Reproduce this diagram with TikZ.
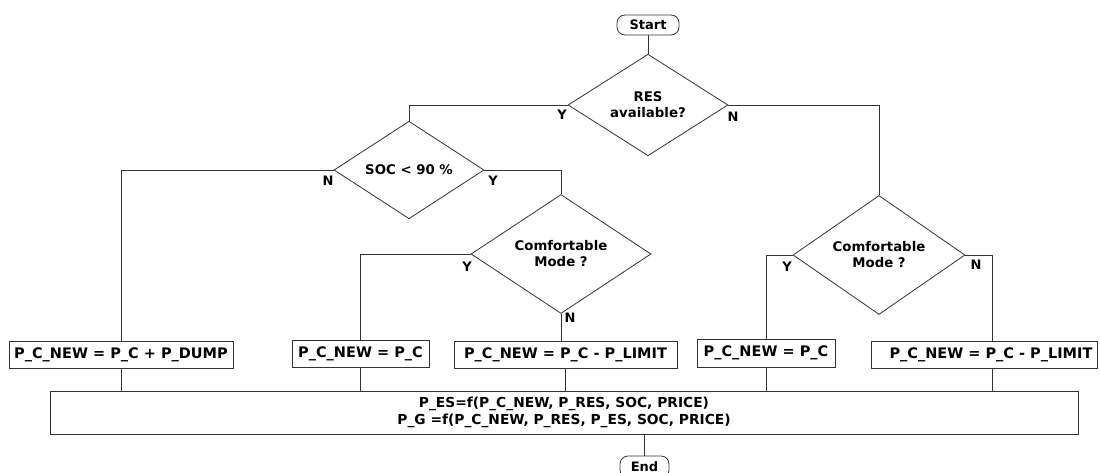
\documentclass[tikz,border=0pt]{standalone}
\usepackage{fontspec}
\setmainfont{DejaVu Sans}
\usetikzlibrary{shapes.geometric}
\definecolor{ln}{HTML}{333333}
\tikzset{
  base/.style={font=\fontsize{13}{15}\selectfont\bfseries, text=black},
  term/.style={base, draw=ln, line width=0.8pt, rounded corners=8pt, inner sep=0pt},
  dec/.style={base, draw=ln, line width=0.8pt, diamond, inner sep=0pt, align=center, font=\fontsize{13.3}{16}\selectfont\bfseries},
  proc/.style={base, draw=ln, line width=0.8pt, rectangle, inner sep=0pt, align=center, font=\fontsize{14.5}{16}\selectfont\bfseries},
  lab/.style={base, inner sep=0pt},
  conn/.style={draw=ln, line width=0.8pt}
}
\begin{document}
\begin{tikzpicture}[x=1pt,y=-1pt]
\useasboundingbox (0,0) rectangle (1100,473);
\node[term, minimum width=62pt, minimum height=20pt] (start) at (648,25) {Start};
\node[dec, minimum width=160pt, minimum height=96pt] (res) at (648,105) {RES\\available?};
\node[dec, minimum width=150pt, minimum height=90pt] (soc) at (409,170) {SOC < 90 \%};
\node[dec, minimum width=180pt, minimum height=110pt] (cmA) at (561,254) {Comfortable\\Mode ?};
\node[dec, minimum width=172pt, minimum height=106pt] (cmB) at (879,255) {Comfortable\\Mode ?};
\node[proc, minimum width=224pt, minimum height=27pt] (bA) at (121,354.5) {P\_C\_NEW = P\_C + P\_DUMP};
\node[proc, minimum width=137pt, minimum height=27pt] (bB) at (360.5,353.5) {P\_C\_NEW = P\_C};
\node[proc, minimum width=223pt, minimum height=27pt] (bC) at (565.5,354.5) {P\_C\_NEW = P\_C - P\_LIMIT};
\node[proc, minimum width=138pt, minimum height=28pt] (bD) at (766,353) {P\_C\_NEW = P\_C};
\node[proc, minimum width=226pt, minimum height=27pt] (bE) at (984,354.5) {\hspace*{14pt}P\_C\_NEW = P\_C - P\_LIMIT};
\node[proc, minimum width=1028pt, minimum height=43pt, font=\fontsize{13.8}{16.5}\selectfont\bfseries] (all) at (564,412.5) {P\_ES=f(P\_C\_NEW, P\_RES, SOC, PRICE)\\P\_G =f(P\_C\_NEW, P\_RES, P\_ES, SOC, PRICE)};
\node[term, minimum width=49pt, minimum height=22pt] (end) at (644.5,467) {End};
\coordinate (eTop) at ([xshift=8pt]bE.north);
\coordinate (eBot) at ([xshift=8pt]bE.south);
% labels
\node[lab] (lResY) at (562,115) {Y};
\node[lab] (lResN) at (733,117) {N};
\node[lab] (lSocN) at (328,181) {N};
\node[lab] (lSocY) at (493,181) {Y};
\node[lab] (lAY) at (467,267) {Y};
\node[lab] (lAN) at (570,318) {N};
\node[lab] (lBY) at (787,267) {Y};
\node[lab] (lBN) at (976,265) {N};
% connectors
\draw[conn] (start) -- (res.north);
\draw[conn] (res.west) -| (soc.north);
\draw[conn] (res.east) -| (cmB.north);
\draw[conn] (soc.west) -| (bA.north);
\draw[conn] (soc.east) -| (cmA.north);
\draw[conn] (cmA.west) -| (bB.north);
\draw[conn] (cmA.south) -- (cmA.south |- bC.north);
\draw[conn] (cmB.west) -| (bD.north);
\draw[conn] (cmB.east) -| (eTop);
\draw[conn] (bA.south) -- (bA.south |- all.north);
\draw[conn] (bB.south) -- (bB.south |- all.north);
\draw[conn] (bC.south) -- (bC.south |- all.north);
\draw[conn] (bD.south) -- (bD.south |- all.north);
\draw[conn] (eBot) -- (eBot |- all.north);
\draw[conn] (end.north |- all.south) -- (end.north);
\end{tikzpicture}
\end{document}
